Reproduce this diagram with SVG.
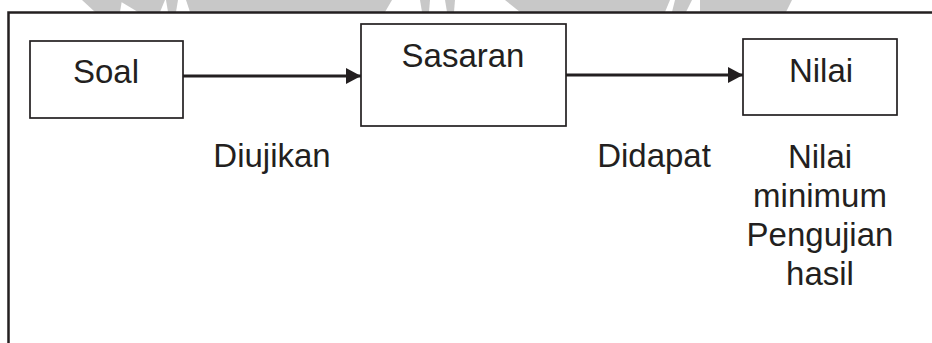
<svg xmlns="http://www.w3.org/2000/svg" width="932" height="343" viewBox="0 0 932 343">
<style>
.box{fill:#fff;stroke:#231f20;stroke-width:1.7}
.lbl{font-family:"Liberation Sans",Arial,sans-serif;font-size:33px;fill:#231f20;text-anchor:middle}
.conn{stroke:#231f20;stroke-width:2.8;fill:none}
.wm{fill:#c8c8c8}
</style>
<defs>
<marker id="ah" markerWidth="17" markerHeight="17" refX="15" refY="8" orient="auto" markerUnits="userSpaceOnUse">
<path d="M0,0 L15,8 L0,16 Z" fill="#231f20"/>
</marker>
</defs>
<rect width="932" height="343" fill="#fff"/>
<g id="watermark">
<polygon class="wm" points="82,0 122,0 120,12 95,12"/>
<polygon class="wm" points="118,0 165,0 160,12 138,12"/>
<polygon class="wm" points="166,0 178,0 176,12 168,12"/>
<polygon class="wm" points="186,0 392,0 385,12 190,12"/>
<polygon class="wm" points="420,0 430,0 429,12 422,12"/>
<polygon class="wm" points="445,0 455,0 454,12 447,12"/>
<polygon class="wm" points="505,0 670,0 665,12 520,12"/>
<polygon class="wm" points="675,0 692,0 686,12 672,12"/>
<polygon class="wm" points="700,0 792,0 786,12 700,12"/>
</g>
<g id="frame">
<path d="M8.5,343 V12.5 H932" fill="none" stroke="#231f20" stroke-width="2.5"/>
</g>
<g id="connectors">
<line class="conn" x1="183" y1="76" x2="361" y2="76" marker-end="url(#ah)"/>
<line class="conn" x1="566" y1="75" x2="743" y2="75" marker-end="url(#ah)"/>
</g>
<g id="soal">
<rect class="box" x="30" y="41" width="153" height="77"/>
<text class="lbl" x="106" y="83">Soal</text>
</g>
<g id="sasaran">
<rect class="box" x="361" y="24" width="205" height="102"/>
<text class="lbl" x="463" y="67">Sasaran</text>
</g>
<g id="nilai">
<rect class="box" x="743" y="39" width="154" height="76"/>
<text class="lbl" x="821" y="82">Nilai</text>
</g>
<g id="labels">
<text class="lbl" x="272" y="167">Diujikan</text>
<text class="lbl" x="654" y="167">Didapat</text>
<text class="lbl" x="820" y="168">Nilai</text>
<text class="lbl" x="820" y="207">minimum</text>
<text class="lbl" x="820" y="246">Pengujian</text>
<text class="lbl" x="820" y="285">hasil</text>
</g>
</svg>
